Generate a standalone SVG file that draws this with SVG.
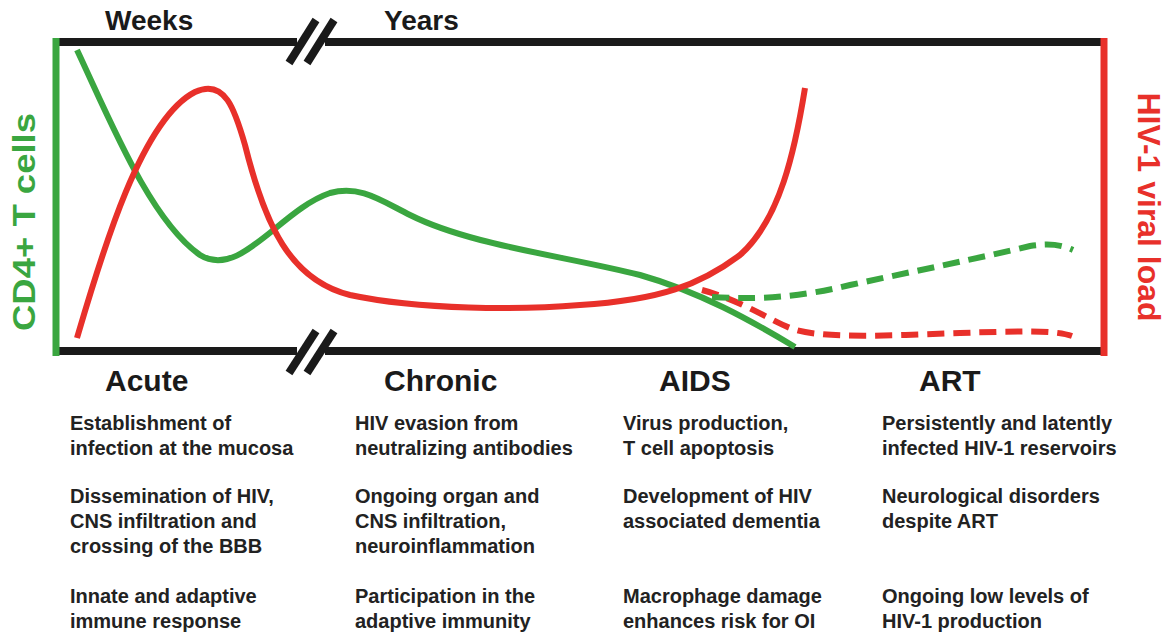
<svg xmlns="http://www.w3.org/2000/svg" width="1174" height="636" viewBox="0 0 1174 636">
<style>
.ax{stroke:#1a1a1a;stroke-width:8;fill:none}
.brk{stroke:#1a1a1a;stroke-width:8;fill:none}
.g{stroke:#3aa640;stroke-width:6;fill:none;stroke-linecap:butt}
.r{stroke:#e8302a;stroke-width:6;fill:none}
.dash{stroke-dasharray:17 9}
.hd{font-family:"Liberation Sans",Arial,sans-serif;font-weight:bold;font-size:30px;fill:#1a1a1a}
.top{font-family:"Liberation Sans",Arial,sans-serif;font-weight:bold;font-size:28px;fill:#1a1a1a}
.tx{font-family:"Liberation Sans",Arial,sans-serif;font-weight:bold;font-size:20px;fill:#222}
.lab{font-family:"Liberation Sans",Arial,sans-serif;font-weight:bold;font-size:31px}
</style>
<rect width="1174" height="636" fill="#fff"/>
<g id="axes">
<line class="ax" x1="58" y1="42" x2="297" y2="42"/>
<line class="ax" x1="325" y1="42" x2="1102" y2="42"/>
<line class="ax" x1="58" y1="351" x2="297" y2="351"/>
<line class="ax" x1="325" y1="351" x2="1102" y2="351"/>
<line class="brk" x1="289" y1="63" x2="316" y2="20"/>
<line class="brk" x1="307" y1="63" x2="334" y2="20"/>
<line class="brk" x1="289" y1="373" x2="316" y2="331"/>
<line class="brk" x1="307" y1="373" x2="334" y2="331"/>
<line x1="56" y1="38" x2="56" y2="356" stroke="#3aa640" stroke-width="7"/>
<line x1="1104" y1="38" x2="1104" y2="356" stroke="#e8302a" stroke-width="7"/>
</g>
<g id="curves">
<path class="g" d="M77,50 C110,120 150,220 200,255 C240,280 280,210 330,193 C360,185 380,200 410,215 C470,245 560,255 640,275 C700,292 750,320 795,347"/>
<path class="r" d="M77,338 C100,260 140,120 195,92 C225,78 235,110 245,145 C265,225 290,280 350,295 C420,310 520,310 580,305 C660,300 700,285 740,255 C780,220 795,150 805,88"/>
<path class="r dash" d="M702,290 C740,300 770,320 790,328 C820,340 900,335 960,333 C1020,331 1055,330 1072,336"/>
<path class="g dash" d="M712,297 C760,300 800,297 850,285 C920,270 980,258 1030,246 C1050,243 1062,245 1073,250"/>
</g>
<g id="axis-labels">
<text class="top" x="105" y="30">Weeks</text>
<text class="top" x="384" y="30">Years</text>
<text class="lab" fill="#3aa640" transform="translate(35,222) rotate(-90)" text-anchor="middle" textLength="218" lengthAdjust="spacingAndGlyphs">CD4+ T cells</text>
<text class="lab" fill="#e8302a" transform="translate(1138,207) rotate(90)" text-anchor="middle" textLength="229" lengthAdjust="spacingAndGlyphs">HIV-1 viral load</text>
</g>
<g id="acute">
<text class="hd" x="105" y="391">Acute</text>
<text class="tx" x="70" y="430">Establishment of</text>
<text class="tx" x="70" y="455">infection at the mucosa</text>
<text class="tx" x="70" y="503">Dissemination of HIV,</text>
<text class="tx" x="70" y="528">CNS infiltration and</text>
<text class="tx" x="70" y="553">crossing of the BBB</text>
<text class="tx" x="70" y="603">Innate and adaptive</text>
<text class="tx" x="70" y="628">immune response</text>
</g>
<g id="chronic">
<text class="hd" x="384" y="391">Chronic</text>
<text class="tx" x="355" y="430">HIV evasion from</text>
<text class="tx" x="355" y="455">neutralizing antibodies</text>
<text class="tx" x="355" y="503">Ongoing organ and</text>
<text class="tx" x="355" y="528">CNS infiltration,</text>
<text class="tx" x="355" y="553">neuroinflammation</text>
<text class="tx" x="355" y="603">Participation in the</text>
<text class="tx" x="355" y="628">adaptive immunity</text>
</g>
<g id="aids">
<text class="hd" x="659" y="391">AIDS</text>
<text class="tx" x="623" y="430">Virus production,</text>
<text class="tx" x="623" y="455">T cell apoptosis</text>
<text class="tx" x="623" y="503">Development of HIV</text>
<text class="tx" x="623" y="528">associated dementia</text>
<text class="tx" x="623" y="603">Macrophage damage</text>
<text class="tx" x="623" y="628">enhances risk for OI</text>
</g>
<g id="art">
<text class="hd" x="919" y="391">ART</text>
<text class="tx" x="882" y="430">Persistently and latently</text>
<text class="tx" x="882" y="455">infected HIV-1 reservoirs</text>
<text class="tx" x="882" y="503">Neurological disorders</text>
<text class="tx" x="882" y="528">despite ART</text>
<text class="tx" x="882" y="603">Ongoing low levels of</text>
<text class="tx" x="882" y="628">HIV-1 production</text>
</g>
</svg>
